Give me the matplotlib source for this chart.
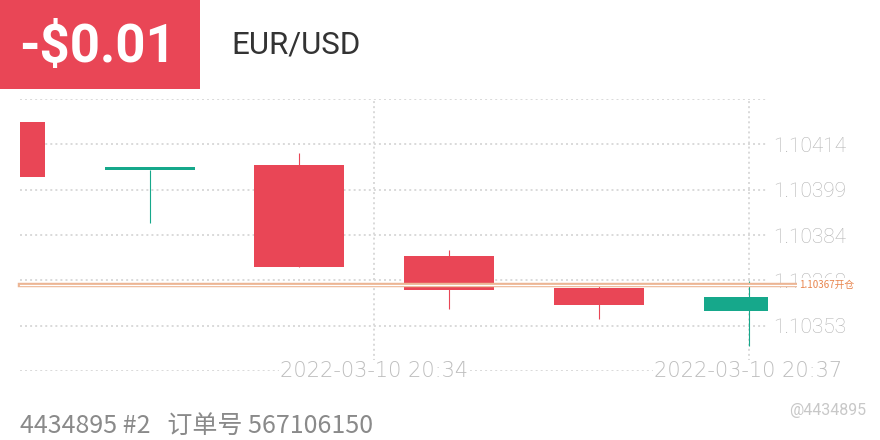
import matplotlib
matplotlib.use('Agg')
import numpy as np
import matplotlib.pyplot as plt
from matplotlib.patches import Rectangle

# candle data (one candle per slot)
opens = [1.104215, 1.104054, 1.104069, 1.103767, 1.103658, 1.103582]
highs = [1.104215, 1.104054, 1.104111, 1.103786, 1.103669, 1.103682]
lows = [1.104031, 1.103876, 1.103729, 1.103589, 1.103554, 1.103465]
closes = [1.104031, 1.104054, 1.103729, 1.103652, 1.103602, 1.103630]

open_price = 1.10367
open_label = '1.10367开仓'
time_pos = [2.5, 5.0]
time_labels = ['2022-03-10 20:34', '2022-03-10 20:37']
price_range = (1.103381, 1.104291)

pnl_text = '-$0.01'
symbol = 'EUR/USD'
footer = '4434895 #2   订单号 567106150'
watermark = '@4434895'

RED = '#e94656'
TEAL = '#16a88b'
GRID = '#d9d9d9'
LABEL = '#b3b3b3'
CJK = ['Noto Sans CJK SC', 'DejaVu Sans']

plt.rcParams['font.family'] = ['Roboto', 'DejaVu Sans']

fig = plt.figure(figsize=(8.8, 4.4), dpi=100)
ax = fig.add_axes([20 / 880, 1 - 371 / 440, 748 / 880, 272 / 440])

# header
fig.add_artist(Rectangle((0, 1 - 89 / 440), 200 / 880, 89 / 440,
                         transform=fig.transFigure, color=RED, lw=0))
fig.text(97 / 880, 1 - 47 / 440, pnl_text, color='white', fontsize=38,
         fontweight='bold', ha='center', va='center')
fig.text(231 / 880, 1 - 45 / 440, symbol, color='#333333', fontsize=22.5,
         ha='left', va='center')

# candles
x = np.arange(len(opens))
for i in x:
    o, h, l, c = opens[i], highs[i], lows[i], closes[i]
    col = TEAL if c >= o else RED
    ax.vlines(i, l, h, color=col, lw=0.8, zorder=3)
    body = max(abs(c - o), 0.000009)
    ax.bar(i, body, bottom=min(o, c), width=0.6, color=col, lw=0, zorder=4)

# open position line
ax.axhline(open_price, xmin=0, xmax=1.043, color='#ecb594', lw=3.2,
           clip_on=False, zorder=8)
ax.axhline(open_price, xmin=0, xmax=1.043, color='white', lw=0.9,
           clip_on=False, zorder=8)
ax.text(1.042, open_price, open_label, transform=ax.get_yaxis_transform(),
        color='#e8844c', fontsize=7, family=CJK, ha='left', va='center',
        zorder=10, clip_on=False,
        bbox=dict(facecolor='white', edgecolor='none', pad=1.5))

# axes and grid
ax.set_xlim(0.134, 5.13)
ax.set_ylim(*price_range)
yt = np.linspace(price_range[0], price_range[1], 7)
ax.set_yticks(yt)
ax.set_yticklabels([''] + ['%.5f' % v for v in yt[1:-1]] + [''])
ax.set_xticks(time_pos)
ax.set_xticklabels([])
ax.yaxis.tick_right()
ax.tick_params(length=0)
ax.tick_params(axis='y', pad=4, labelsize=15, labelcolor=LABEL)
for t in ax.get_yticklabels():
    t.set_fontweight('light')
ax.grid(True, color=GRID, lw=1.4, linestyle=(0, (1, 1.6)))
ax.set_axisbelow(True)
for s in ax.spines.values():
    s.set_visible(False)

for p, lab in zip(time_pos, time_labels):
    ax.text(p, 0, lab, transform=ax.get_xaxis_transform(), color='#bdbdbd',
            fontsize=15, family=['DejaVu Sans'], fontweight='light',
            ha='center', va='center', zorder=9, clip_on=False,
            bbox=dict(facecolor='white', edgecolor='none', pad=1))

# footer
fig.text(20 / 880, 1 - 426 / 440, footer, color='#8a8a8a', fontsize=18,
         family=CJK, ha='left', va='center')
fig.text(789 / 880, 1 - 410 / 440, watermark, color='#c8c8c8', fontsize=11.5,
         ha='left', va='center')

fig.savefig('out.png', dpi=100)
